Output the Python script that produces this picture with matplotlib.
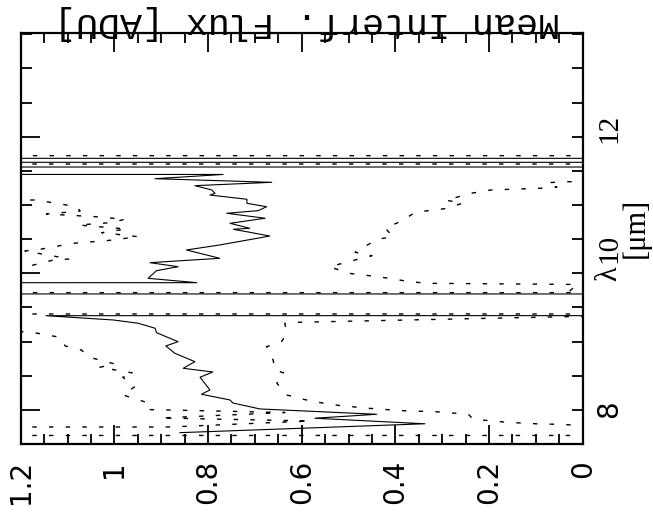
import matplotlib
matplotlib.use('Agg')
import matplotlib.pyplot as plt
from matplotlib.ticker import MultipleLocator, FuncFormatter, NullLocator
import matplotlib.transforms as mtransforms

plt.rcParams['lines.scale_dashes'] = False

# ---------------- data (wavelength in micron, flux in ADU) ----------------
# values of +/-40 are excursions far outside the plotted flux range
lam_S = [7.668, 7.798, 7.879, 7.937, 8.015, 8.102, 8.146, 8.230, 8.293, 8.479,
         8.556, 8.610, 8.707, 8.830, 8.937, 9.000, 9.131, 9.196, 9.269, 9.317,
         9.380, 9.410, 9.690, 9.706, 9.845, 9.863, 9.927, 10.039, 10.097, 10.156,
         10.220, 10.342, 10.415, 10.546, 10.645, 10.659, 10.732, 10.806, 10.879, 10.917,
         10.975, 11.025, 11.084, 11.146, 11.171, 11.220, 11.283, 11.332, 11.385, 11.447,
         11.470, 11.552, 11.560, 11.621, 11.629, 11.679, 11.687, 13.5]
flux_S = [0.860, 0.337, 0.572, 0.440, 0.689, 0.747, 0.753, 0.814, 0.796, 0.817,
          0.790, 0.853, 0.828, 0.871, 0.890, 0.864, 0.910, 0.913, 0.949, 1.002,
          1.146, -40, -40, 40, 40, 0.824, 0.928, 0.910, 0.864, 0.924,
          0.775, 0.846, 0.775, 0.668, 0.746, 0.711, 0.753, 0.678, 0.760, 0.693,
          0.675, 0.717, 0.717, 0.796, 0.785, 0.792, 0.828, 0.664, 0.913, 0.768,
          40, 40, -40, -40, 40, 40, -40, -40]

lam_D1 = [7.50, 7.745, 7.751, 7.839, 7.883, 7.963, 8.007, 8.117, 8.220, 8.337,
          8.479, 8.537, 8.625, 8.673, 8.776, 8.878, 8.937, 9.064, 9.108, 9.146,
          9.170, 9.401, 9.409, 9.713, 9.721, 10.085, 10.097, 10.195, 10.210, 10.327,
          10.356, 10.440, 10.478, 10.536, 10.595, 10.649, 10.707, 10.741, 10.791, 10.829,
          10.868, 10.912, 10.975, 11.073, 11.090, 11.596, 11.604, 13.5]
flux_D1 = [40, 40, 0.881, 0.582, 0.902, 0.636, 0.934, 0.934, 0.982, 0.957,
           0.982, 0.957, 1.031, 0.999, 1.056, 1.070, 1.105, 1.116, 1.152, 1.184,
           40, 40, -40, -40, 40, 40, 1.187, 1.130, 1.095, 1.191,
           1.155, 1.088, 1.016, 0.949, 1.027, 0.974, 1.077, 1.009, 0.977, 1.041,
           1.145, 1.073, 1.081, 1.166, 40, 40, -40, -40]

lam_D2 = [7.50, 7.623, 7.631, 7.770, 7.780, 7.791, 7.795, 7.820, 7.843, 7.864,
          7.937, 7.975, 7.990, 8.025, 8.073, 8.113, 8.161, 8.220, 8.391, 8.537,
          8.585, 8.732, 8.926, 9.000, 9.122, 9.269, 9.284, 9.366, 9.400, 9.740,
          9.746, 9.837, 9.854, 9.878, 9.951, 10.001, 10.097, 10.203, 10.258, 10.308,
          10.498, 10.536, 10.664, 10.766, 10.893, 10.952, 11.029, 11.069, 11.171, 11.220,
          11.245, 11.259, 11.327, 11.341, 11.360, 11.718, 11.726, 13.5]
flux_D2 = [40, 40, -40, -40, 0.021, 0.056, 0.091, 0.162, 0.198, 0.234,
           0.244, 0.315, 0.386, 0.458, 0.529, 0.565, 0.600, 0.632, 0.653, 0.636,
           0.657, 0.661, 0.675, 0.643, 0.632, 0.636, 0.604, 0.031, -40, -40,
           0.027, 0.012, 0.332, 0.369, 0.437, 0.501, 0.540, 0.482, 0.450, 0.486,
           0.439, 0.405, 0.422, 0.386, 0.358, 0.288, 0.256, 0.292, 0.239, 0.196,
           0.091, 0.055, 0.076, 0.027, -40, -40, 40, 40]

flux_range = (1.2, 0.0)
lam_range = (7.502, 13.513)
lam_ticklabels = {'8': 8.015, '10': 10.37, '12': 12.12}
ylabel_text = 'Mean Interf. Flux [ADU]'

# ---------------- figure ----------------
W, H = 653, 512
fig = plt.figure(figsize=(W / 100, H / 100), dpi=100)
L, R, T, B = 20.7, 582.7, 33.3, 444.0
ax = fig.add_axes([L / W, 1 - B / H, (R - L) / W, (B - T) / H])
ax.set_xlim(*flux_range)
ax.set_ylim(*lam_range)

ax.plot(flux_S, lam_S, color='black', lw=0.8)
ax.plot(flux_D1, lam_D1, color='black', lw=1.0, linestyle=(0, (3.2, 8.8)))
ax.plot(flux_D2, lam_D2, color='black', lw=1.0, linestyle=(0, (3.2, 8.8)))

for s in ax.spines.values():
    s.set_linewidth(1.6)

# flux axis (bottom / top)
ax.xaxis.set_major_locator(MultipleLocator(0.2))
ax.xaxis.set_minor_locator(MultipleLocator(0.05))
ax.xaxis.set_major_formatter(FuncFormatter(lambda v, p: f'{round(v, 2):g}'))
ax.tick_params(axis='x', which='both', direction='in', top=True, bottom=True, width=1.3)
ax.tick_params(axis='x', which='major', length=13.7, pad=11.5, labelsize=20,
               labelrotation=90)
ax.tick_params(axis='x', which='minor', length=7.2)

# wavelength axis, left side
ax.yaxis.set_major_locator(MultipleLocator(2))
ax.yaxis.set_minor_locator(MultipleLocator(0.5))
ax.tick_params(axis='y', which='both', direction='in', left=True, right=False,
               labelleft=False, width=1.3)
ax.tick_params(axis='y', which='major', length=13.7)
ax.tick_params(axis='y', which='minor', length=7.9)

# wavelength axis, right side (short ticks only)
tw = ax.twinx()
tw.set_ylim(*lam_range)
tw.yaxis.set_major_locator(MultipleLocator(0.5))
tw.yaxis.set_minor_locator(NullLocator())
tw.tick_params(axis='y', direction='in', length=7.9, width=1.3, labelright=False)
for s in tw.spines.values():
    s.set_visible(False)

tr = mtransforms.blended_transform_factory(ax.transAxes, ax.transData)
xl = (609 - L) / (R - L)
for lab, pos in lam_ticklabels.items():
    if lab == '8':
        ax.text(xl, pos, lab, transform=tr, rotation=90, ha='center', va='center',
                family='DejaVu Sans', fontsize=20, clip_on=False)
    else:
        ax.text(xl, pos, lab, transform=tr, rotation=90, ha='center', va='center',
                family='Liberation Serif', fontsize=21, clip_on=False)

# axis title for wavelength
ax.text((609 - L) / (R - L), 9.99, 'λ', transform=tr, rotation=90, ha='center',
        va='center', family='Liberation Serif', fontsize=22, clip_on=False)
ax.text((636 - L) / (R - L), 10.67, '[μm]', transform=tr, rotation=90, ha='center',
        va='center', family='Liberation Serif', fontsize=22, clip_on=False)

# flux title, upside down at top
fig.text(306.5 / W, 1 - 13 / H, ylabel_text, rotation=180, rotation_mode='anchor',
         ha='center', va='baseline', family='Liberation Mono', fontsize=26.5)

fig.savefig('out.png', dpi=100)
